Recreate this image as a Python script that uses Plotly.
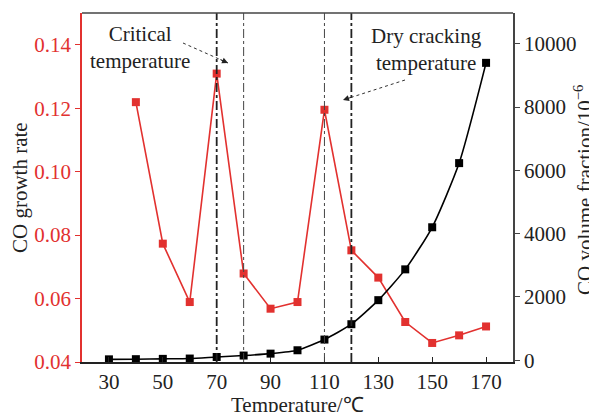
import plotly.graph_objects as go

temps = [30, 40, 50, 60, 70, 80, 90, 100, 110, 120, 130, 140, 150, 160, 170]
growth_temps = [40, 50, 60, 70, 80, 90, 100, 110, 120, 130, 140, 150, 160, 170]
growth_rate = [0.1219, 0.0773, 0.0589, 0.1309, 0.0679, 0.0568, 0.0589,
               0.1195, 0.0752, 0.0666, 0.0526, 0.0460, 0.0484, 0.0512]
co_fraction = [30, 35, 45, 55, 105, 150, 210, 317, 655, 1140, 1900, 2873,
               4203, 6230, 9398]
x_ticks = [30, 50, 70, 90, 110, 130, 150, 170]
y1_ticks = [0.04, 0.06, 0.08, 0.10, 0.12, 0.14]
y1_labels = ["0.04", "0.06", "0.08", "0.10", "0.12", "0.14"]
y2_ticks = [0, 2000, 4000, 6000, 8000, 10000]
y2_labels = ["0", "2000", "4000", "6000", "8000", "10000"]
critical_range = [70, 80]
dry_cracking_range = [110, 120]

RED = "#e2312f"
FONT = "Liberation Serif, Times New Roman, serif"
FS = 21

# the page body has an 8px default margin; figure sized to fit the window
OFF = 8
W, H = 597 - OFF, 412 - OFF
PL, PR, PT, PB = 82, 513, 13, 362  # plot area in window pixels

fig = go.Figure()
fig.add_trace(go.Scatter(x=growth_temps, y=growth_rate, mode="lines+markers",
                         line=dict(color=RED, width=1.6),
                         marker=dict(symbol="square", size=8, color=RED),
                         yaxis="y", showlegend=False))
fig.add_trace(go.Scatter(x=temps, y=co_fraction, mode="lines+markers",
                         line=dict(color="black", width=1.6, shape="spline", smoothing=0.6),
                         marker=dict(symbol="square", size=8, color="black"),
                         yaxis="y2", showlegend=False))


def px_to_x(p):
    return 20 + (p - PL) / ((PR - PL) / 160)


def wx_paper(p):
    return (p - PL) / (PR - PL)


def py_to_paper(p):
    return (PB - p) / (PB - PT)


shapes = []
for rng in (critical_range, dry_cracking_range):
    lo, hi = rng
    thick_x = lo if rng is critical_range else hi
    thin_x = hi if rng is critical_range else lo
    shapes.append(dict(type="line", xref="x", yref="paper", x0=thick_x, x1=thick_x,
                       y0=0, y1=1, line=dict(color="#222", width=1.8, dash="dashdot")))
    shapes.append(dict(type="line", xref="x", yref="paper", x0=thin_x, x1=thin_x,
                       y0=0, y1=1, line=dict(color="#444", width=1, dash="dashdot")))
shapes.append(dict(type="line", xref="paper", yref="paper", x0=0, x1=1, y0=1, y1=1,
                   line=dict(color="#444", width=1.5)))

arrows = [((183, 43), (228, 63)), ((405, 80), (343, 100))]
annotations = []
for (tx, ty), (hx, hy) in arrows:
    shapes.append(dict(type="line", xref="x", yref="paper",
                       x0=px_to_x(tx), y0=py_to_paper(ty), x1=px_to_x(hx), y1=py_to_paper(hy),
                       line=dict(color="#333", width=1, dash="dot")))
    dx, dy = tx - hx, ty - hy
    n = (dx * dx + dy * dy) ** 0.5
    annotations.append(dict(x=px_to_x(hx), y=py_to_paper(hy), xref="x", yref="paper",
                            text="", showarrow=True, arrowhead=2, arrowsize=1.2,
                            arrowwidth=1, arrowcolor="#222",
                            ax=dx / n * 10, ay=dy / n * 10))

txtfont = dict(family=FONT, size=FS, color="#222")
annotations.append(dict(x=px_to_x(140), y=py_to_paper(47), xref="x", yref="paper",
                        text="Critical<br>temperature", showarrow=False,
                        font=txtfont, align="center", xanchor="center", yanchor="middle"))
annotations.append(dict(x=px_to_x(426), y=py_to_paper(49), xref="x", yref="paper",
                        text="Dry cracking<br>temperature", showarrow=False,
                        font=txtfont, align="center", xanchor="center", yanchor="middle"))
# axis titles
annotations.append(dict(x=wx_paper(20), y=py_to_paper(188), xref="paper", yref="paper",
                        text="CO growth rate", textangle=-90, showarrow=False,
                        font=txtfont, xanchor="center", yanchor="middle"))
annotations.append(dict(x=wx_paper(583), y=py_to_paper(190), xref="paper", yref="paper",
                        text="CO volume fraction/10<sup>−6</sup>", textangle=-90,
                        showarrow=False, font=txtfont, xanchor="center", yanchor="middle"))
annotations.append(dict(x=wx_paper(297), y=py_to_paper(405), xref="paper", yref="paper",
                        text="Temperature/℃", showarrow=False,
                        font=txtfont, xanchor="center", yanchor="middle"))

fig.update_layout(
    width=W, height=H,
    margin=dict(l=PL - OFF, r=W - (PR - OFF), t=PT - OFF, b=H - (PB - OFF), autoexpand=False),
    plot_bgcolor="white", paper_bgcolor="white",
    font=dict(family=FONT, size=FS, color="#222"),
    shapes=shapes, annotations=annotations,
    xaxis=dict(range=[20, 180], tickvals=x_ticks, ticks="inside", ticklen=5,
               tickcolor="#222", showline=True, linecolor="#222", linewidth=1.5,
               showgrid=False, zeroline=False,
               tickfont=dict(family=FONT, size=FS, color="#222")),
    yaxis=dict(range=[0.04, 0.15], tickvals=y1_ticks, ticktext=y1_labels,
               ticks="outside", ticklen=5, tickcolor=RED, showline=True,
               linecolor=RED, linewidth=1.5, showgrid=False, zeroline=False,
               tickfont=dict(family=FONT, size=FS, color=RED)),
    yaxis2=dict(range=[-54, 10973], tickvals=y2_ticks, ticktext=y2_labels,
                overlaying="y", side="right",
                ticks="outside", ticklen=5, tickcolor="#444", showline=True,
                linecolor="#444", linewidth=1.5, showgrid=False, zeroline=False,
                tickfont=dict(family=FONT, size=FS, color="#222")),
)

fig.write_html("out.html")
